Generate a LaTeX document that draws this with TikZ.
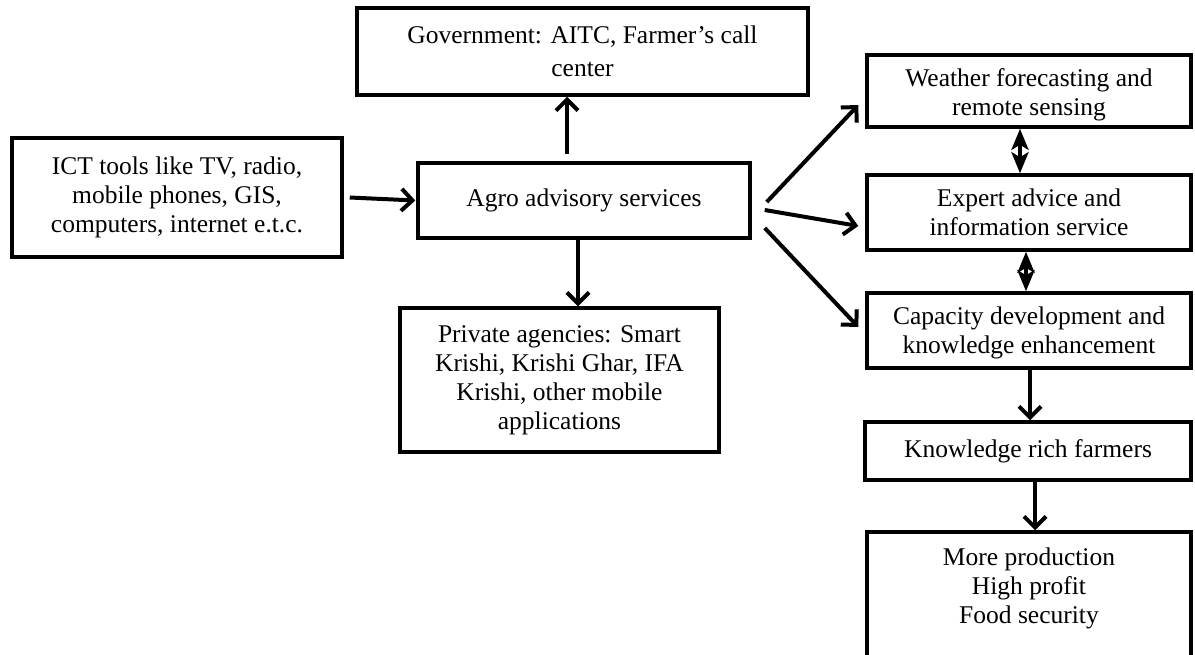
\documentclass[tikz,border=0pt]{standalone}
\usepackage{fontspec}
\setmainfont{Liberation Serif}
\usetikzlibrary{arrows.meta}
\newcommand{\lowertext}[2]{\raisebox{-#1}[\height][\depth]{\begin{tabular}{@{}c@{}}#2\end{tabular}}}
\begin{document}
\begin{tikzpicture}[x=1pt,y=-1pt,
  box/.style={draw, line width=3.5pt, inner sep=0pt, align=center, font=\fontsize{25.5}{29}\selectfont},
  txt/.style={inner sep=0pt, align=center, font=\fontsize{25.5}{29}\selectfont},
  arr/.style={line width=4pt, -{Straight Barb[length=11pt,width=22pt,line width=4pt]}},
  dbl/.style={line width=4pt, {Stealth[length=21pt,width=17pt,inset=5pt]}-{Stealth[length=21pt,width=17pt,inset=5pt]}}]
\clip (0,0) rectangle (1195,654);
\useasboundingbox (0,0) rectangle (1195,654);
\node[box, minimum width=451pt, minimum height=87pt, font=\fontsize{25.5}{33}\selectfont] (gov) at (582.5,51.5) {Government: AITC, Farmer's call\\center};
\node[box, minimum width=332pt, minimum height=75pt] (agro) at (584,200.5) {Agro advisory services};
\node[box, minimum width=330pt, minimum height=119pt] (ict) at (177,197.5) {ICT tools like TV, radio,\\mobile phones, GIS,\\computers, internet e.t.c.};
\node[box, minimum width=319pt, minimum height=144pt] (priv) at (559.5,380) {Private agencies: Smart\\Krishi, Krishi Ghar, IFA\\Krishi, other mobile\\applications};
\node[box, minimum width=324pt, minimum height=72pt] (weather) at (1029,91) {\lowertext{4pt}{Weather forecasting and\\remote sensing}};
\node[box, minimum width=324pt, minimum height=75pt] (expert) at (1029,212.5) {Expert advice and\\information service};
\node[box, minimum width=324pt, minimum height=75pt] (cap) at (1029,330.5) {\lowertext{3pt}{Capacity development and\\knowledge enhancement}};
\node[box, minimum width=326pt, minimum height=58pt] (know) at (1028,451) {Knowledge rich farmers};
\node[box, minimum width=324pt, minimum height=150pt] (more) at (1029,607) {};
\node[txt] (moretxt) at (1029,588) {More production\\High profit\\Food security};
% connectors
\draw[arr] ([xshift=6pt]ict.east) -- ([xshift=-1pt]agro.west);
\draw[arr] ([xshift=-17pt,yshift=7pt]agro.north) -- ([xshift=-15.5pt]gov.south);
\draw[arr] ([xshift=-6pt]agro.south) -- ([xshift=18.5pt]priv.north);
\draw[arr] ([xshift=15pt,yshift=-1.5pt]agro.east) -- ([xshift=-7pt,yshift=-14pt]weather.west);
\draw[arr] ([xshift=13pt,yshift=-9.5pt]agro.east) -- ([xshift=-7pt,yshift=-13.5pt]expert.west);
\draw[arr] ([xshift=13pt,yshift=-27.5pt]agro.east) -- ([xshift=-7pt,yshift=3.5pt]cap.west);
\draw[dbl] ([xshift=-9pt]weather.south) -- ([xshift=-9pt]expert.north);
\draw[dbl] ([xshift=-3pt]expert.south) -- ([xshift=-3pt]cap.north);
\draw[arr] ([xshift=1pt]cap.south) -- ([xshift=2pt]know.north);
\draw[arr] ([xshift=7pt]know.south) -- ([xshift=6pt]more.north);
\end{tikzpicture}
\end{document}
